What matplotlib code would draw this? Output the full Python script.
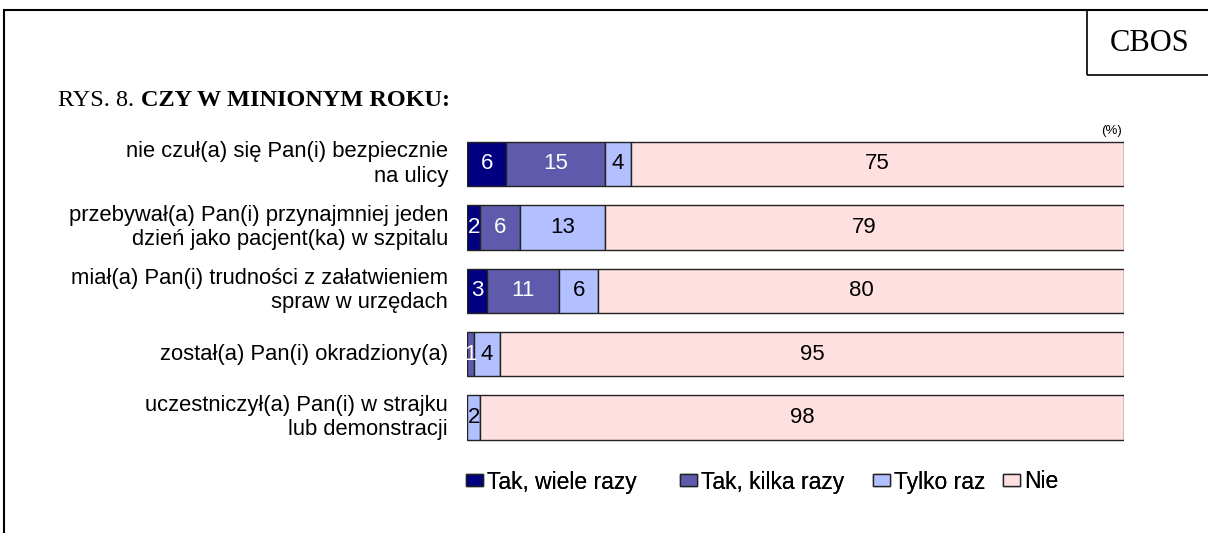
import matplotlib
matplotlib.use("Agg")
import matplotlib.pyplot as plt
from matplotlib.patches import Rectangle
import numpy as np

categories = [
    "nie czuł(a) się Pan(i) bezpiecznie\nna ulicy",
    "przebywał(a) Pan(i) przynajmniej jeden\ndzień jako pacjent(ka) w szpitalu",
    "miał(a) Pan(i) trudności z załatwieniem\nspraw w urzędach",
    "został(a) Pan(i) okradziony(a)",
    "uczestniczył(a) Pan(i) w strajku\nlub demonstracji",
]
series_names = ["Tak, wiele razy", "Tak, kilka razy", "Tylko raz", "Nie"]
tak_wiele = [6, 2, 3, 0, 0]
tak_kilka = [15, 6, 11, 1, 0]
tylko_raz = [4, 13, 6, 4, 2]
nie = [75, 79, 80, 95, 98]

colors = ["#000080", "#5F5AAB", "#B3C0FF", "#FFE0E0"]
text_colors = ["white", "white", "black", "black"]

W, H = 1208, 533
fig = plt.figure(figsize=(W / 100, H / 100), dpi=100)

# outer frame
fig.patches.append(Rectangle((4 / W, -0.1), 1.2, 1 - 10 / H + 0.1, transform=fig.transFigure,
                             fill=False, edgecolor="black", linewidth=1.5))
# CBOS box
fig.patches.append(Rectangle((1087 / W, 1 - 75 / H), 0.2, 65 / H, transform=fig.transFigure,
                             fill=False, edgecolor="black", linewidth=1.2))
fig.text(1150 / W, 1 - 43 / H, "CBOS", ha="center", va="center",
         family="Liberation Serif", fontsize=22)
fig.text(58 / W, 1 - 106 / H, "RYS. 8. ", ha="left", va="baseline",
         family="Liberation Serif", fontsize=17.5)
fig.text(141 / W, 1 - 106 / H, "CZY W MINIONYM ROKU:", ha="left", va="baseline",
         family="Liberation Serif", fontsize=17.5, fontweight="bold")
fig.text(1111 / W, 1 - 131 / H, "(%)", ha="center", va="center",
         family="Liberation Sans", fontsize=9.5)

left = 467 / W
width = 657 / W
top_px, bot_px = 132.3, 449.2
ax = fig.add_axes([left, 1 - bot_px / H, width, (bot_px - top_px) / H])
ax.set_xlim(0, 100)
ax.set_ylim(4.5, -0.5)
ax.axis("off")

y = np.arange(len(categories))
data = [tak_wiele, tak_kilka, tylko_raz, nie]
cum = np.zeros(len(categories))
handles = []
for vals, col, tc, name in zip(data, colors, text_colors, series_names):
    vals = np.array(vals, dtype=float)
    bars = ax.barh(y, vals, left=cum, height=0.7, color=col, edgecolor="#222222",
                   linewidth=1.0, label=name)
    handles.append(bars)
    for i, v in enumerate(vals):
        if v > 0:
            ax.text(cum[i] + v / 2, y[i], f"{int(v)}", ha="center", va="center",
                    color=tc, family="Liberation Sans", fontsize=16)
    cum += vals

for i, cat in enumerate(categories):
    ax.text(-2.9, y[i], cat, ha="right", va="center", family="Liberation Sans",
            fontsize=15.8, linespacing=1.2, transform=ax.transData)

legend_x = [466, 680, 873, 1003]
for h, name, lx in zip(handles, series_names, legend_x):
    leg = fig.legend([h], [name], loc="center left", bbox_to_anchor=(lx / W, 1 - 482 / H),
                     frameon=False, prop={"family": "Liberation Sans", "size": 16.5},
                     handlelength=0.75, handleheight=0.45, handletextpad=0.15,
                     borderpad=0, borderaxespad=0)
    fig.add_artist(leg)

fig.savefig("out.png", dpi=100)
